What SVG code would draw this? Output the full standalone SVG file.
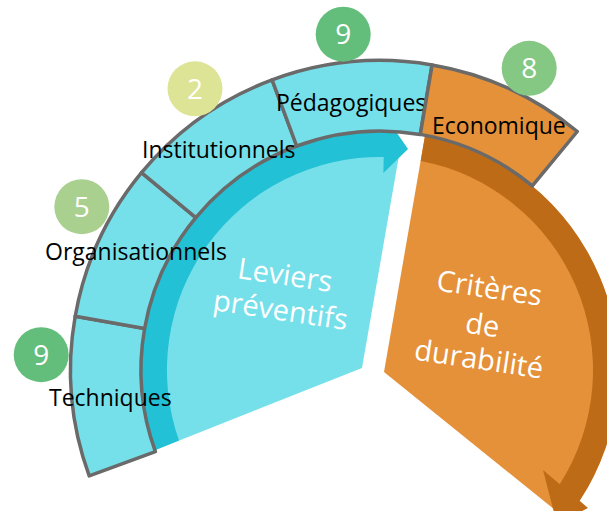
<svg xmlns="http://www.w3.org/2000/svg" width="607" height="511" viewBox="0 0 607 511">
<style>
.lc{fill:#76E0EA}
.dc{fill:#22C1D5}
.lo{fill:#E5913A}
.do{fill:#BE6B17}
.seg{stroke:#6A6A6A;stroke-width:3.5;stroke-linejoin:round}
.lbl{font-family:"Open Sans","Liberation Sans",sans-serif;font-size:23px;fill:#000}
.wt{font-family:"Open Sans","Liberation Sans",sans-serif;font-size:29px;fill:#fff;text-anchor:middle}
.num{font-family:"Open Sans","Liberation Sans",sans-serif;font-size:28px;fill:#fff;text-anchor:middle}
</style>
<rect width="607" height="511" fill="#fff"/>
<g id="leviers">
<path class="lc" d="M362,368 L154.8,450.2 A239,239 0 0 1 384.2,131 L398.6,157.8 Z"/>
<path class="dc" d="M154.8,450.2 A239,239 0 0 1 384.2,131 L384.5,115 L408,149 L383.4,173 L383.7,157 A213,213 0 0 0 179,440.6 Z"/>
<text class="wt" transform="translate(283.5,285) rotate(8.5)">Leviers</text>
<text class="wt" transform="translate(279,320) rotate(8.5)">préventifs</text>
</g>
<g id="criteres">
<path class="lo" d="M384,372 L425.1,135.3 A239,239 0 0 1 579.6,500.8 L563.6,516.9 Z"/>
<path class="do" d="M425.1,135.3 A239,239 0 0 1 579.6,500.8 L588,508 L557,524 L543,470 L559.8,484.2 A213,213 0 0 0 420.7,160.9 Z"/>
<text class="wt" transform="translate(488,298) rotate(8.5)">Critères</text>
<text class="wt" transform="translate(481,335) rotate(8.5)">de</text>
<text class="wt" transform="translate(477.5,369) rotate(8.5)">durabilité</text>
</g>
<g id="techniques">
<path class="seg lc" d="M89.2,475.9 A309.5,309.5 0 0 1 75.2,316.3 L144.6,328.5 A239,239 0 0 0 155.4,451.7 Z"/>
<text class="lbl" x="49" y="406">Techniques</text>
</g>
<g id="organisationnels">
<path class="seg lc" d="M75.2,316.3 A309.5,309.5 0 0 1 141.5,172.7 L195.8,217.7 A239,239 0 0 0 144.6,328.5 Z"/>
<text class="lbl" x="45" y="260">Organisationnels</text>
</g>
<g id="institutionnels">
<path class="seg lc" d="M141.5,172.7 A309.5,309.5 0 0 1 272.1,79.9 L296.7,146 A239,239 0 0 0 195.8,217.7 Z"/>
<text class="lbl" x="142" y="158">Institutionnels</text>
</g>
<g id="pedagogiques">
<path class="seg lc" d="M272.1,79.9 A309.5,309.5 0 0 1 432.1,64.9 L420.3,134.4 A239,239 0 0 0 296.7,146 Z"/>
<text class="lbl" x="276" y="111">Pédagogiques</text>
</g>
<g id="economique">
<path class="seg lo" d="M432.1,64.9 A309.5,309.5 0 0 1 577.3,131.5 L532.3,185.8 A239,239 0 0 0 420.3,134.4 Z"/>
<text class="lbl" x="432" y="134">Economique</text>
</g>
<g id="n-techniques">
<circle cx="41.2" cy="354.7" r="27.5" fill="#63BE7B"/>
<text class="num" x="41.2" y="364.7">9</text>
</g>
<g id="n-organisationnels">
<circle cx="81.8" cy="206.7" r="27.5" fill="#A9D08E"/>
<text class="num" x="81.8" y="216.7">5</text>
</g>
<g id="n-institutionnels">
<circle cx="195" cy="88.8" r="27.5" fill="#DDE495"/>
<text class="num" x="195" y="98.8">2</text>
</g>
<g id="n-pedagogiques">
<circle cx="343.2" cy="34.2" r="27.5" fill="#63BE7B"/>
<text class="num" x="343.2" y="44.2">9</text>
</g>
<g id="n-economique">
<circle cx="529.2" cy="68.3" r="27.5" fill="#84C884"/>
<text class="num" x="529.2" y="78.3">8</text>
</g>
<g id="connectors"></g>
</svg>
